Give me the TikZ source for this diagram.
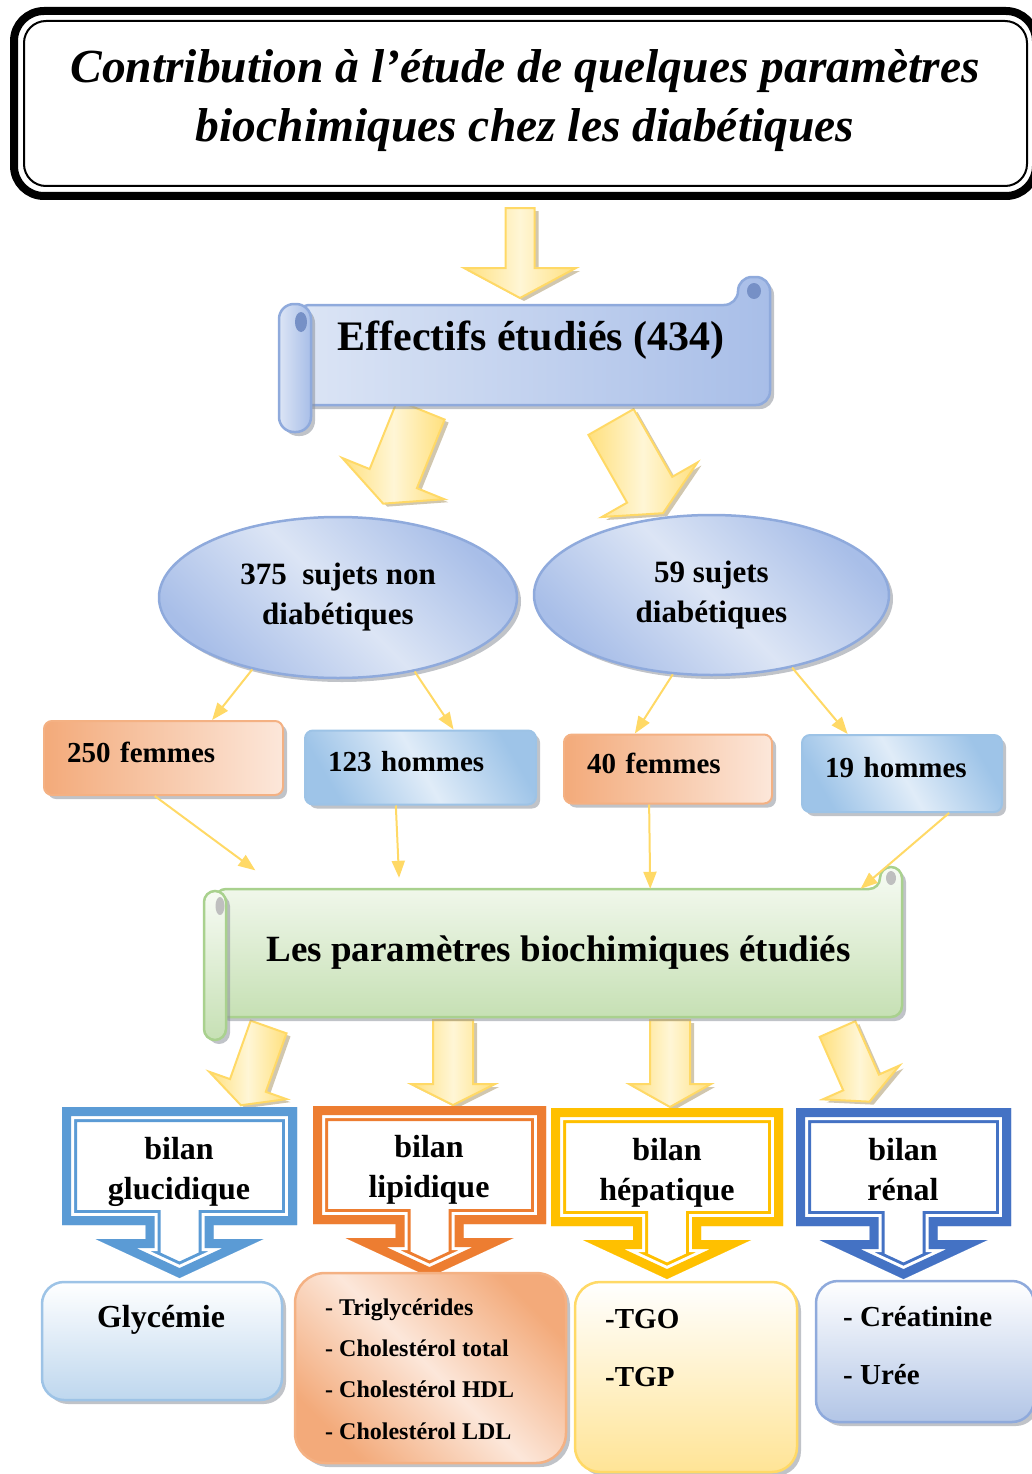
\documentclass[tikz,border=0pt]{standalone}
\usepackage{fontspec}
\setmainfont{Liberation Serif}
\usetikzlibrary{shapes.geometric, arrows.meta, positioning, calc, shadows}
\definecolor{ylwedge}{RGB}{255,217,102}
\definecolor{ylwlight}{RGB}{255,246,214}
\definecolor{ylwmid}{RGB}{255,224,125}
\definecolor{arrowshade}{RGB}{190,175,140}
\definecolor{bluedge}{RGB}{143,170,220}
\definecolor{blulight}{RGB}{220,229,245}
\definecolor{blumid}{RGB}{168,190,232}
\definecolor{curlblue}{RGB}{118,144,198}
\definecolor{orgedge}{RGB}{244,177,131}
\definecolor{orglight}{RGB}{252,231,218}
\definecolor{orgmid}{RGB}{243,170,122}
\definecolor{skyedge}{RGB}{157,195,230}
\definecolor{skylight}{RGB}{224,236,248}
\definecolor{skymid}{RGB}{158,196,232}
\definecolor{grnedge}{RGB}{169,209,142}
\definecolor{grnlight}{RGB}{247,251,244}
\definecolor{grnmid}{RGB}{198,224,180}
\definecolor{curlgray}{RGB}{191,191,191}
\definecolor{cbglu}{RGB}{91,155,213}
\definecolor{cblip}{RGB}{237,125,49}
\definecolor{cbhep}{RGB}{255,192,0}
\definecolor{cbren}{RGB}{68,114,196}
\definecolor{shadowgray}{RGB}{140,145,155}
\definecolor{hepfill}{RGB}{255,228,150}
\definecolor{renfill}{RGB}{178,197,230}
\definecolor{glyfill}{RGB}{190,215,238}
\tikzset{
  shadowed/.style={drop shadow={shadow xshift=4pt, shadow yshift=-4pt, fill=shadowgray, opacity=0.55}},
  arrshadow/.style={drop shadow={shadow xshift=4pt, shadow yshift=-3pt, fill=arrowshade, opacity=0.7}},
  blockarr/.style={draw=ylwedge, line width=2pt, line join=miter,
    left color=ylwmid, right color=ylwmid, middle color=ylwlight, arrshadow},
  thinarrow/.style={-{Triangle[length=17pt,width=13pt]}, color=ylwedge, line width=2pt},
  titletext/.style={font=\bfseries\itshape\fontsize{47.5}{59}\selectfont, align=center},
  scrb/.style={draw=bluedge, line width=2.5pt, left color=blulight, right color=blumid, shadowed},
  scrg/.style={draw=grnedge, line width=2.5pt, top color=grnlight, bottom color=grnmid, shadowed},
  bigtext/.style={font=\bfseries\fontsize{42}{50}\selectfont},
  ellnode/.style={ellipse, draw=bluedge, line width=2.5pt,
    left color=blumid, right color=blumid, middle color=blulight, shading angle=-45,
    font=\bfseries\fontsize{31}{40}\selectfont, align=center, shadowed},
  femnode/.style={rectangle, rounded corners=8pt, draw=orgedge, line width=2pt,
    left color=orgmid, right color=orglight, text height=20pt, text depth=12pt,
    font=\bfseries\fontsize{29}{34}\selectfont, align=left, inner xsep=23pt, shadowed},
  homnode/.style={rectangle, rounded corners=8pt, draw=skyedge, line width=2pt,
    left color=skymid, right color=skymid, middle color=skylight, shading angle=-60,
    text height=20pt, text depth=12pt,
    font=\bfseries\fontsize{29}{34}\selectfont, align=left, inner xsep=23pt, shadowed},
  paramtext/.style={font=\bfseries\fontsize{37}{44}\selectfont},
  bilantext/.style={font=\bfseries\fontsize{32}{40}\selectfont, align=center},
  resbox/.style={rectangle, line width=2.5pt, shadowed},
  restext/.style={font=\bfseries\fontsize{29}{58}\selectfont, align=left, anchor=west, inner xsep=0pt},
  listtext/.style={font=\bfseries\fontsize{24}{41.3}\selectfont, align=left, anchor=west, inner xsep=0pt}
}
% outline of a down arrow callout, origin at the middle of its top edge
\newcommand{\calloutpath}[1]{(-#1,0) -- (#1,0) -- (#1,118) -- (34,118) -- (34,132) -- (84,132) -- (0,171) -- (-84,132) -- (-34,132) -- (-34,118) -- (-#1,118) -- cycle}
\newcommand{\bilanshape}[4]{%
  \begin{scope}[shift={(#1,#2)}]
    \clip \calloutpath{#3};
    \fill[white] \calloutpath{#3};
    \draw[#4, line width=30pt, line join=miter, miter limit=20] \calloutpath{#3};
    \draw[white, line width=24pt, line join=miter, miter limit=20] \calloutpath{#3};
    \draw[#4, line width=18pt, line join=miter, miter limit=20] \calloutpath{#3};
  \end{scope}}
% x, y, angle, length, half shaft, head length, half head
\newcommand{\blockarrow}[7]{%
  \begin{scope}[shift={(#1,#2)}, rotate=#3]
    \filldraw[blockarr] ({-#5},0) -- (#5,0) -- (#5,{#4-#6}) -- (#7,{#4-#6}) -- (0,#4)
      -- ({-#7},{#4-#6}) -- ({-#5},{#4-#6}) -- cycle;
  \end{scope}}
\begin{document}
\begin{tikzpicture}[x=1pt, y=-1pt]
  \useasboundingbox (0,0) rectangle (1032,1474);

  % Title frame
  \draw[line width=8pt, rounded corners=30] (14,11) rectangle (1036,196);
  \draw[line width=2pt, rounded corners=22] (24,21) rectangle (1027,186);
  \node[titletext] (title) at (525,101) {Contribution à l’étude de quelques paramètres\\biochimiques chez les diabétiques};

  % Yellow block arrows
  \blockarrow{520}{208}{0}{90}{14.5}{30}{56}
  \blockarrow{421}{410}{-22}{101}{25.5}{27}{55}
  \blockarrow{611}{422}{29.7}{105}{26}{27}{55}
  \blockarrow{268.6}{1027}{-19.5}{83}{19}{21}{41}
  \blockarrow{453}{1020}{0}{85}{20}{21}{42}
  \blockarrow{670}{1020}{0}{87}{20}{23}{41}
  \blockarrow{837.5}{1029}{23.8}{79.4}{19.5}{21}{42}

  % Scroll: effectifs
  \filldraw[scrb, rounded corners=14] (296,305) -- (738,305) -- (738,277) -- (770,277) -- (770,405) -- (296,405) -- cycle;
  \fill[curlblue] (754,291) ellipse (7 and 8);
  \filldraw[scrb, rounded corners=15] (279,304) rectangle (311,432);
  \fill[curlblue] (301,322) ellipse (6 and 10);
  \node[bigtext] (eff) at (531,340) {Effectifs étudiés (434)};

  % Groups
  \node[ellnode, minimum width=358pt, minimum height=161pt] (el1) at (338,597.5) {375\ \ sujets non\\diabétiques};
  \node[ellnode, minimum width=355pt, minimum height=160pt] (el2) at (711.5,595) {59 sujets\\diabétiques};

  \node[femnode, text width=193pt, minimum height=74pt] (f1) at (163.5,758) {250 femmes};
  \node[homnode, text width=185pt, minimum height=74pt] (h1) at (420.5,767.5) {123 hommes};
  \node[femnode, text width=162pt, minimum height=69pt] (f2) at (668,769) {40 femmes};
  \node[homnode, text width=154pt, minimum height=77pt] (h2) at (902,773.5) {19 hommes};

  \draw[thinarrow] (el1.220) -- (f1.38.5);
  \draw[thinarrow] (el1.316) -- (h1.49.6);
  \draw[thinarrow] (el2.244) -- (f2.133.7);
  \draw[thinarrow] (el2.318) -- (h2.144.5);

  % Scroll: parametres
  \filldraw[scrg, rounded corners=11] (215,889) -- (880,889) -- (880,867) -- (902,867) -- (902,1017) -- (215,1017) -- cycle;
  \fill[curlgray] (891,878) ellipse (5 and 7);
  \filldraw[scrg, rounded corners=11] (204,891) rectangle (226,1040);
  \fill[curlgray] (220,906) ellipse (4.5 and 9);
  \node[paramtext, minimum width=687pt, minimum height=128pt] (params) at (558.5,953) {Les paramètres biochimiques étudiés};

  \draw[thinarrow, shorten >=31pt] (f1.257) -- (params.167.45);
  \draw[thinarrow, shorten >=11pt] (h1.237.6) -- (params.158.4);
  \draw[thinarrow] (f2.242.4) -- (params.35);
  \draw[thinarrow] (h2.320) -- (params.12.06);

  % Bilans
  \bilanshape{179.5}{1107}{117.5}{cbglu}
  \bilanshape{429.5}{1106}{116.5}{cblip}
  \bilanshape{667}{1108}{116}{cbhep}
  \bilanshape{903.5}{1108}{107.5}{cbren}
  \node[bilantext] (glu) at (179,1172) {bilan\\glucidique};
  \node[bilantext] (lip) at (429,1170) {bilan\\lipidique};
  \node[bilantext] (hep) at (667,1173) {bilan\\hépatique};
  \node[bilantext] (ren) at (903,1170) {bilan\\rénal};

  % Results
  \node[resbox, rounded corners=22pt, draw=skyedge, top color=white, bottom color=glyfill,
    minimum width=240pt, minimum height=118pt] (gly) at (162,1341) {};
  \node[bilantext] (glyt) at (161,1320) {Glycémie};

  \node[resbox, rounded corners=30pt, draw=orgedge, left color=orgmid, right color=orgmid,
    middle color=orglight, shading angle=-45, minimum width=271pt, minimum height=190pt] (lipres) at (430.5,1368) {};
  \node[listtext] (lipt) at (325,1369) {- Triglycérides\\- Cholestérol total\\- Cholestérol HDL\\- Cholestérol LDL};

  \node[resbox, rounded corners=25pt, draw=ylwedge, top color=white, bottom color=hepfill,
    minimum width=222pt, minimum height=190pt] (hepres) at (686,1377) {};
  \node[restext] (hept) at (605,1348.5) {-TGO\\-TGP};

  \node[resbox, rounded corners=22pt, draw=bluedge, top color=white, bottom color=renfill,
    minimum width=218pt, minimum height=141pt] (renres) at (925,1351.5) {};
  \node[restext] (rent) at (843,1346) {- Créatinine\\- Urée};
\end{tikzpicture}
\end{document}
